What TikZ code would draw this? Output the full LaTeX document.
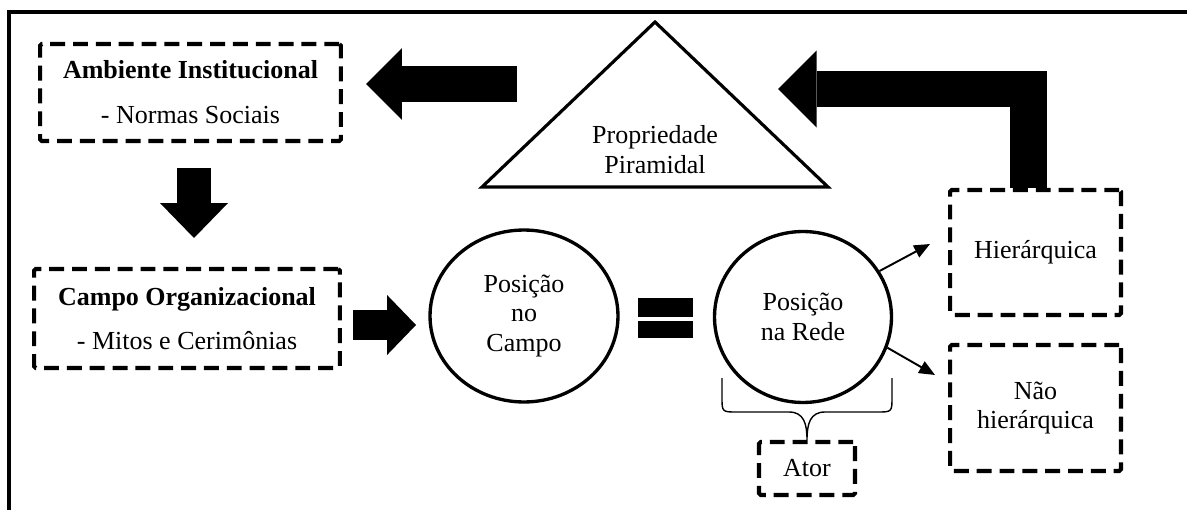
\documentclass[tikz,border=0pt]{standalone}
\usepackage{fontspec}
\setmainfont{Liberation Serif}
\usetikzlibrary{arrows.meta,shapes.geometric}

\tikzset{
  dbox/.style={draw, line width=2.3pt, dash pattern=on 8.5pt off 4.5pt, rounded corners=1pt, align=center, inner sep=0pt},
  posicao/.style={draw, ellipse, line width=1.9pt, inner sep=0pt, align=center},
  bigarrow/.style n args={3}{line width=#1, line join=miter, -{Triangle[length=#2, width=#3, line width=0pt]}},
  fina/.style={line width=1.1pt, -{Triangle[length=9pt, width=7.5pt]}},
}

\begin{document}
\begin{tikzpicture}[x=0.02cm, y=-0.02cm, every node/.style={font=\fontsize{14.8}{17}\selectfont}]
    \useasboundingbox (0,0) rectangle (1187,510);
    % Frame
    \draw[line width=2.5pt] (9,510) -- (9,12) -- (1187,12);
    % Boxes
    \node[dbox, minimum width=6.02cm, minimum height=1.94cm] (amb) at (190.5,92.5) {\textbf{Ambiente Institucional}\\[8.5pt]- Normas Sociais};
    \node[dbox, minimum width=6.12cm, minimum height=1.98cm] (campo) at (187,318.5) {\textbf{Campo Organizacional}\\[8pt]- Mitos e Cerimônias};
    \node[dbox, minimum width=3.42cm, minimum height=2.5cm] (hier) at (1035.5,252.5) {Hierárquica};
    \node[dbox, minimum width=3.42cm, minimum height=2.52cm] (naohier) at (1035.5,408) {Não\\hierárquica};
    \node[dbox, minimum width=1.92cm, minimum height=1.06cm] (ator) at (807,468.5) {Ator};
    % Triangle
    \draw[line width=1.8pt, line join=miter] (655,22) -- (828,187) -- (482,187) -- cycle;
    \node[align=center] (prop) at (655,150) {Propriedade\\Piramidal};
    % Circles
    \node[posicao, minimum width=3.76cm, minimum height=3.44cm] (campoPos) at (524,316) {Posição\\no\\Campo};
    \node[posicao, minimum width=3.54cm, minimum height=3.42cm] (redePos) at (803,317) {Posição\\na Rede};
    % Equals
    \node[fill, inner sep=0pt, minimum width=1.1cm, minimum height=0.38cm] (igualA) at (665,307.5) {};
    \node[fill, inner sep=0pt, minimum width=1.1cm, minimum height=0.34cm] (igualB) at (665,329.5) {};
    % Block arrows
    \coordinate (triW) at (517,84);
    \coordinate (ambE) at (366,84);
    \coordinate (ambS) at (194,168);
    \coordinate (campoN) at (194,238);
    \coordinate (campoE) at (353,325);
    \coordinate (posW) at (416,325);
    \coordinate (hierN) at (1028.5,188);
    \coordinate (triE) at (778,89);
    \draw[bigarrow={20.4pt}{20.4pt}{40.8pt}] (triW) -- (ambE);
    \draw[bigarrow={19.3pt}{19.8pt}{38.5pt}] (ambS) -- (campoN);
    \draw[bigarrow={17pt}{16.4pt}{34pt}] (campoE) -- (posW);
    \draw[bigarrow={21pt}{22pt}{44pt}] (hierN) |- (triE);
    % Thin arrows
    \coordinate (hierW) at (930,244);
    \coordinate (naoW) at (935,375);
    \draw[fina] (redePos.31) -- (hierW);
    \draw[fina] (redePos.-20) -- (naoW);
    % Brace
    \draw[line width=0.8pt] (722,378) -- (722,397) .. controls (722,412) .. (737,412) -- (789,412)
        .. controls (804,412) and (807,424) .. (ator.north)
        .. controls (807,424) and (810,412) .. (825,412) -- (877,412)
        .. controls (892,412) .. (892,397) -- (892,378);
\end{tikzpicture}
\end{document}
